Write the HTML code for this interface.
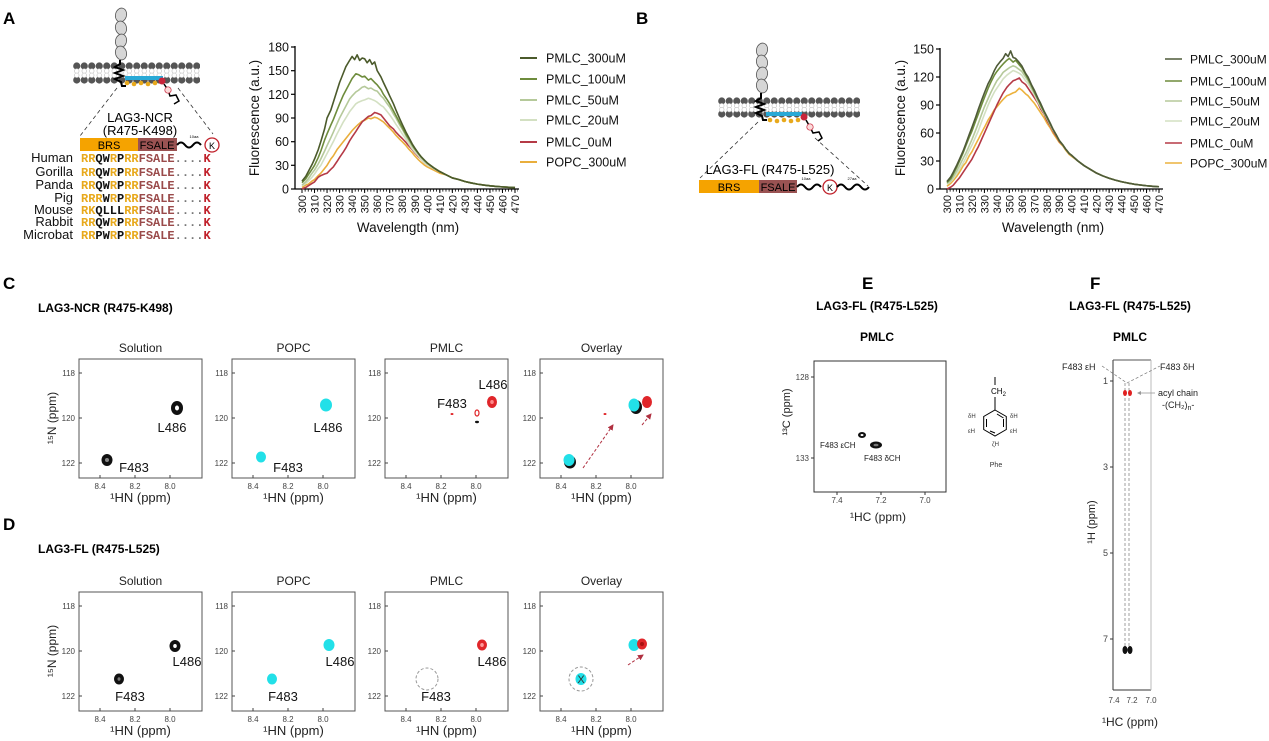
<!DOCTYPE html>
<html><head><meta charset="utf-8">
<style>
html,body{margin:0;padding:0;background:#fff;}
svg{display:block;font-family:"Liberation Sans",sans-serif;}
.mono{font-family:"Liberation Mono",monospace;font-size:12px;font-weight:bold;}
.o{fill:#e8a91c}.k{fill:#111}.b{fill:#9a4a4a}.r{fill:#c0202a}.g{fill:#777}
.tk{font-size:8px;fill:#444}
.yt{font-size:12.5px;fill:#111}
.xt{font-size:11px;fill:#111}
.lg{font-size:12.5px;fill:#111}
.lgb{font-size:12px;fill:#111}
.pl{font-size:13px;fill:#111}
.c{fill:none;stroke-width:1.6;stroke-linejoin:round;vector-effect:non-scaling-stroke}
</style></head><body>
<svg width="1269" height="741" viewBox="0 0 1269 741" xmlns="http://www.w3.org/2000/svg" xmlns:xlink="http://www.w3.org/1999/xlink">
<defs>
<pattern id="mem" x="73" y="0" width="7.5" height="200" patternUnits="userSpaceOnUse">
<circle cx="3.75" cy="66" r="3.6" fill="#555"/><circle cx="3.75" cy="80" r="3.6" fill="#555"/>
<circle cx="3.75" cy="71" r="2.3" fill="#fff" stroke="#bbb" stroke-width="0.6"/><circle cx="3.75" cy="75.3" r="2.3" fill="#fff" stroke="#bbb" stroke-width="0.6"/>
<circle cx="3.75" cy="101" r="3.6" fill="#555"/><circle cx="3.75" cy="114" r="3.6" fill="#555"/>
<circle cx="3.75" cy="105.7" r="2.3" fill="#fff" stroke="#bbb" stroke-width="0.6"/><circle cx="3.75" cy="109.6" r="2.3" fill="#fff" stroke="#bbb" stroke-width="0.6"/>
</pattern>
<marker id="ar" markerWidth="6" markerHeight="6" refX="5" refY="3" orient="auto" markerUnits="userSpaceOnUse"><path d="M0,0 L6,3 L0,6 z" fill="#b03040"/></marker>
<g id="fr">
<rect x="79" y="359" width="123" height="119" fill="none" stroke="#555" stroke-width="1"/>
<g stroke="#444"><line x1="79" y1="373" x2="82" y2="373"/><line x1="79" y1="418" x2="82" y2="418"/><line x1="79" y1="463" x2="82" y2="463"/>
<line x1="100" y1="478" x2="100" y2="475"/><line x1="135" y1="478" x2="135" y2="475"/><line x1="170" y1="478" x2="170" y2="475"/></g>
<g class="tk" text-anchor="end"><text x="75" y="376">118</text><text x="75" y="421">120</text><text x="75" y="466">122</text></g>
<g class="tk" text-anchor="middle"><text x="100" y="489">8.4</text><text x="135" y="489">8.2</text><text x="170" y="489">8.0</text></g>
<text x="140.5" y="502" text-anchor="middle" font-size="13" fill="#222">¹HN (ppm)</text>
</g>
</defs>

<g font-weight="bold" font-size="17" fill="#000">
<text x="3" y="24">A</text><text x="636" y="24">B</text>
<text x="3" y="289">C</text><text x="3" y="530">D</text>
<text x="862" y="289">E</text><text x="1090" y="289">F</text>
</g>

<!-- Cartoon A -->
<g fill="#d6d6d6" stroke="#555" stroke-width="0.8">
<ellipse cx="121" cy="15" rx="5.5" ry="7" transform="rotate(15 121 15)"/>
<ellipse cx="121" cy="28" rx="5.5" ry="7" transform="rotate(-15 121 28)"/>
<ellipse cx="121" cy="41" rx="5.5" ry="7" transform="rotate(15 121 41)"/>
<ellipse cx="121" cy="53" rx="5.5" ry="7" transform="rotate(-15 121 53)"/>
</g>
<rect x="73" y="61" width="127" height="24" fill="url(#mem)"/>
<path d="M120 60 L120 64 L115 67 L123 70 L115 73 L123 76 L115 79 L121 82 L122 86 L126 86" stroke="#000" stroke-width="2" fill="none"/>
<rect x="125" y="76" width="38" height="4" fill="#29a9d6"/>
<g fill="#e8a91c"><circle cx="127" cy="83" r="2.3"/><circle cx="134" cy="84" r="2.3"/><circle cx="141" cy="83" r="2.3"/><circle cx="148" cy="84" r="2.3"/><circle cx="155" cy="83" r="2.3"/></g>
<circle cx="162" cy="81" r="3.5" fill="#c8243a"/>
<path d="M164 84 L168 90 L170 96 L176 95 L179 101 L174 104" stroke="#000" stroke-width="1.5" fill="none"/>
<circle cx="168" cy="90" r="3.2" fill="#fbdada" stroke="#c8243a" stroke-width="0.7"/>
<line x1="117" y1="88" x2="80" y2="136" stroke="#333" stroke-width="0.8" stroke-dasharray="4,3"/>
<line x1="178" y1="88" x2="213" y2="134" stroke="#333" stroke-width="0.8" stroke-dasharray="4,3"/>
<text x="140" y="122" text-anchor="middle" font-size="13">LAG3-NCR</text>
<text x="140" y="135" text-anchor="middle" font-size="13">(R475-K498)</text>
<rect x="80" y="138" width="58" height="13" fill="#f5a300"/>
<rect x="138" y="138" width="39" height="13" fill="#9a5252"/>
<text x="109" y="149" text-anchor="middle" font-size="11">BRS</text>
<text x="157" y="149" text-anchor="middle" font-size="11">FSALE</text>
<path d="M177 145 q4 -5 8 0 t8 0 t8 0" stroke="#000" stroke-width="2" fill="none"/>
<text x="194" y="138" font-size="4" text-anchor="middle">10aa</text>
<circle cx="212" cy="145" r="7" fill="#fff" stroke="#c0202a" stroke-width="1.3"/>
<text x="212" y="149" text-anchor="middle" font-size="9">K</text>
<g font-size="13" text-anchor="end" fill="#111">
<text x="73" y="162">Human</text><text x="73" y="176">Gorilla</text><text x="73" y="189">Panda</text><text x="73" y="202">Pig</text><text x="73" y="214">Mouse</text><text x="73" y="226">Rabbit</text><text x="73" y="239">Microbat</text>
</g>
<g class="mono">
<text x="81" y="162"><tspan class="o">RR</tspan><tspan class="k">QW</tspan><tspan class="o">R</tspan><tspan class="k">P</tspan><tspan class="o">RR</tspan><tspan class="b">FSALE</tspan><tspan class="g">....</tspan><tspan class="r">K</tspan></text>
<text x="81" y="176"><tspan class="o">RR</tspan><tspan class="k">QW</tspan><tspan class="o">R</tspan><tspan class="k">P</tspan><tspan class="o">RR</tspan><tspan class="b">FSALE</tspan><tspan class="g">....</tspan><tspan class="r">K</tspan></text>
<text x="81" y="189"><tspan class="o">RR</tspan><tspan class="k">QW</tspan><tspan class="o">R</tspan><tspan class="k">P</tspan><tspan class="o">RR</tspan><tspan class="b">FSALE</tspan><tspan class="g">....</tspan><tspan class="r">K</tspan></text>
<text x="81" y="202"><tspan class="o">RRR</tspan><tspan class="k">W</tspan><tspan class="o">R</tspan><tspan class="k">P</tspan><tspan class="o">RR</tspan><tspan class="b">FSALE</tspan><tspan class="g">....</tspan><tspan class="r">K</tspan></text>
<text x="81" y="214"><tspan class="o">RK</tspan><tspan class="k">QLLL</tspan><tspan class="o">RR</tspan><tspan class="b">FSALE</tspan><tspan class="g">....</tspan><tspan class="r">K</tspan></text>
<text x="81" y="226"><tspan class="o">RR</tspan><tspan class="k">QW</tspan><tspan class="o">R</tspan><tspan class="k">P</tspan><tspan class="o">RR</tspan><tspan class="b">FSALE</tspan><tspan class="g">....</tspan><tspan class="r">K</tspan></text>
<text x="81" y="239"><tspan class="o">RR</tspan><tspan class="k">PW</tspan><tspan class="o">R</tspan><tspan class="k">P</tspan><tspan class="o">RR</tspan><tspan class="b">FSALE</tspan><tspan class="g">....</tspan><tspan class="r">K</tspan></text>
</g>

<!-- Cartoon B -->
<g fill="#d6d6d6" stroke="#555" stroke-width="0.8">
<ellipse cx="762" cy="50" rx="5.5" ry="7" transform="rotate(15 762 50)"/>
<ellipse cx="762" cy="62" rx="5.5" ry="7" transform="rotate(-15 762 62)"/>
<ellipse cx="762" cy="74" rx="5.5" ry="7" transform="rotate(15 762 74)"/>
<ellipse cx="762" cy="86" rx="5.5" ry="7" transform="rotate(-15 762 86)"/>
</g>
<rect x="718" y="96" width="142" height="23" fill="url(#mem)"/>
<path d="M761 93 L761 98 L756 101 L764 104 L756 107 L764 110 L756 113 L762 116 L763 120 L767 120" stroke="#000" stroke-width="2" fill="none"/>
<rect x="766" y="112" width="36" height="4" fill="#29a9d6"/>
<g fill="#e8a91c"><circle cx="770" cy="120" r="2.3"/><circle cx="777" cy="121" r="2.3"/><circle cx="784" cy="120" r="2.3"/><circle cx="791" cy="121" r="2.3"/><circle cx="798" cy="120" r="2.3"/></g>
<circle cx="804" cy="117" r="3.5" fill="#c8243a"/>
<path d="M806 120 L810 127 L813 133 L819 132 L822 138 L818 141" stroke="#000" stroke-width="1.5" fill="none"/>
<circle cx="810" cy="127" r="3.2" fill="#fbdada" stroke="#c8243a" stroke-width="0.7"/>
<line x1="758" y1="122" x2="700" y2="178" stroke="#333" stroke-width="0.8" stroke-dasharray="4,3"/>
<line x1="815" y1="138" x2="868" y2="186" stroke="#333" stroke-width="0.8" stroke-dasharray="4,3"/>
<text x="770" y="174" text-anchor="middle" font-size="13">LAG3-FL (R475-L525)</text>
<rect x="699" y="180" width="60" height="13" fill="#f5a300"/>
<rect x="759" y="180" width="38" height="13" fill="#9a5252"/>
<text x="729" y="191" text-anchor="middle" font-size="11">BRS</text>
<text x="778" y="191" text-anchor="middle" font-size="11">FSALE</text>
<path d="M797 187 q4 -5 8 0 t8 0 t8 0" stroke="#000" stroke-width="2" fill="none"/>
<text x="806" y="180" font-size="4" text-anchor="middle">10aa</text>
<circle cx="830" cy="187" r="7" fill="#fff" stroke="#c0202a" stroke-width="1.3"/>
<text x="830" y="191" text-anchor="middle" font-size="9">K</text>
<path d="M837 187 q4 -5 8 0 t8 0 t8 0 t8 0" stroke="#000" stroke-width="2" fill="none"/>
<text x="852" y="180" font-size="4" text-anchor="middle">27aa</text>

<!-- Chart A -->
<g>
<line x1="295" y1="46" x2="295" y2="189" stroke="#000" stroke-width="1.3"/>
<line x1="295" y1="189" x2="519" y2="189" stroke="#000" stroke-width="1.3"/>
<g stroke="#000" stroke-width="1.2">
<line x1="291" y1="189" x2="295" y2="189"/><line x1="291" y1="165.3" x2="295" y2="165.3"/><line x1="291" y1="141.7" x2="295" y2="141.7"/><line x1="291" y1="118" x2="295" y2="118"/><line x1="291" y1="94.3" x2="295" y2="94.3"/><line x1="291" y1="70.7" x2="295" y2="70.7"/><line x1="291" y1="47" x2="295" y2="47"/>
</g>
<g class="yt" text-anchor="end"><text x="289" y="193.5">0</text><text x="289" y="169.8">30</text><text x="289" y="146.2">60</text><text x="289" y="122.5">90</text><text x="289" y="98.8">120</text><text x="289" y="75.2">150</text><text x="289" y="51.5">180</text></g>
<line x1="301.6" y1="190.3" x2="518" y2="190.3" stroke="#000" stroke-width="2.6" stroke-dasharray="0.8 2.33"/>
<line x1="301.5" y1="191" x2="518" y2="191" stroke="#000" stroke-width="4" stroke-dasharray="1 11.53"/>
<g class="xt" text-anchor="end">
<text transform="translate(306 195) rotate(-90)">300</text><text transform="translate(318.5 195) rotate(-90)">310</text><text transform="translate(331.1 195) rotate(-90)">320</text><text transform="translate(343.6 195) rotate(-90)">330</text><text transform="translate(356.1 195) rotate(-90)">340</text><text transform="translate(368.7 195) rotate(-90)">350</text><text transform="translate(381.2 195) rotate(-90)">360</text><text transform="translate(393.7 195) rotate(-90)">370</text><text transform="translate(406.2 195) rotate(-90)">380</text><text transform="translate(418.8 195) rotate(-90)">390</text><text transform="translate(431.3 195) rotate(-90)">400</text><text transform="translate(443.8 195) rotate(-90)">410</text><text transform="translate(456.4 195) rotate(-90)">420</text><text transform="translate(468.9 195) rotate(-90)">430</text><text transform="translate(481.4 195) rotate(-90)">440</text><text transform="translate(494 195) rotate(-90)">450</text><text transform="translate(506.5 195) rotate(-90)">460</text><text transform="translate(519 195) rotate(-90)">470</text>
</g>
<text x="408" y="232" text-anchor="middle" font-size="13.5" fill="#111">Wavelength (nm)</text>
<text transform="translate(259 118) rotate(-90)" text-anchor="middle" font-size="13.5" fill="#111">Fluorescence (a.u.)</text>
<g transform="translate(302 189) scale(1.253 -0.789)">
<polyline class="c" stroke="#e9ae3c" points="0,2 3,5 5,6 8,10 10,12 13,17 15,20 18,26 20,30 23,38 25,42 28,50 30,54 33,60 35,64 38,70 40,74 43,79 45,82 48,86 50,87 53,90 55,89 58,91 60,90 63,87 65,85 68,80 70,77 73,72 75,68 78,63 80,60 83,55 85,51 88,46 90,42 93,37 95,34 98,30 100,28 105,24 110,20 115,18 120,14 125,12 130,9.5 135,7.7 140,6.2 145,5 150,4 155,3.3 160,2.7 165,2.2 170,1.8"/>
<polyline class="c" stroke="#b53a46" points="0,0 3,2 5,4 8,7 10,9 13,15 15,17 18,19 20,20 23,25 25,28 28,35 30,40 33,47 35,52 38,61 40,66 43,73 45,78 48,85 50,88 53,92 55,93 58,97 60,96 63,94 65,90 68,84 70,80 73,76 75,72 78,67 80,64 83,59 85,55 88,50 90,46 93,41 95,38 98,33 100,31 105,26 110,22 115,18 120,14 125,12 130,9.5 135,7.7 140,6.2 145,5 150,4 155,3.3 160,2.7 165,2.2 170,1.8"/>
<polyline class="c" stroke="#d3e0c2" points="0,4 3,7 5,10 8,15 10,19 13,26 15,30 18,39 20,45 23,54 25,60 28,70 30,76 33,85 35,90 38,98 40,102 43,108 45,110 48,112 50,113 53,115 55,114 58,112 60,110 63,106 65,104 68,98 70,94 73,87 75,82 78,75 80,70 83,63 85,58 88,51 90,47 93,42 95,38 98,33 100,31 105,26 110,22 115,18 120,14 125,12 130,9.5 135,7.7 140,6.2 145,5 150,4 155,3.3 160,2.7 165,2.2 170,1.8"/>
<polyline class="c" stroke="#b5c99a" points="0,5 3,9 5,13 8,20 10,24 13,32 15,38 18,48 20,55 23,65 25,72 28,83 30,90 33,99 35,105 38,114 40,118 43,123 45,125 48,129 50,130 53,127 55,128 58,125 60,124 63,118 65,115 68,108 70,104 73,95 75,90 78,81 80,76 83,67 85,62 88,54 90,50 93,44 95,40 98,35 100,32 105,27 110,22 115,18 120,14 125,12 130,9.5 135,7.7 140,6.2 145,5 150,4 155,3.3 160,2.7 165,2.2 170,1.8"/>
<polyline class="c" stroke="#6e8c3c" points="0,8 3,13 5,18 8,25 10,30 13,40 15,48 18,62 20,70 23,81 25,88 28,100 30,108 33,119 35,125 38,134 40,140 43,146 45,145 48,142 50,143 53,138 55,140 58,135 60,132 63,126 65,120 68,113 70,108 73,99 75,93 78,84 80,78 83,69 85,64 88,56 90,51 93,45 95,41 98,36 100,33 105,27 110,22 115,18 120,14 125,12 130,9.5 135,7.7 140,6.2 145,5 150,4 155,3.3 160,2.7 165,2.2 170,1.8"/>
<polyline class="c" stroke="#4b5a2b" points="0,10 3,16 5,22 8,31 10,38 13,50 15,60 18,76 20,90 23,100 25,110 28,125 30,135 33,147 35,155 38,163 40,168 42,164 44,170 46,163 48,166 50,165 52,160 54,164 56,158 58,161 60,150 63,142 65,135 68,125 70,118 73,108 75,100 78,89 80,82 83,72 85,66 88,57 90,52 93,45 95,41 98,36 100,33 105,27 110,22 115,18 120,14 125,12 130,9.5 135,7.7 140,6.2 145,5 150,4 155,3.3 160,2.7 165,2.2 170,1.8"/>
</g>
<g stroke-width="2"><line x1="520" y1="58" x2="537" y2="58" stroke="#4b5a2b"/><line x1="520" y1="79" x2="537" y2="79" stroke="#6e8c3c"/><line x1="520" y1="100" x2="537" y2="100" stroke="#b5c99a"/><line x1="520" y1="120" x2="537" y2="120" stroke="#d3e0c2"/><line x1="520" y1="142" x2="537" y2="142" stroke="#b53a46"/><line x1="520" y1="162" x2="537" y2="162" stroke="#e9ae3c"/></g>
<g class="lg"><text x="546" y="62.5">PMLC_300uM</text><text x="546" y="83.5">PMLC_100uM</text><text x="546" y="104.5">PMLC_50uM</text><text x="546" y="124.5">PMLC_20uM</text><text x="546" y="146.5">PMLC_0uM</text><text x="546" y="166.5">POPC_300uM</text></g>
</g>

<!-- Chart B -->
<g>
<line x1="940" y1="48" x2="940" y2="189" stroke="#000" stroke-width="1.3"/>
<line x1="940" y1="189" x2="1163" y2="189" stroke="#000" stroke-width="1.3"/>
<g stroke="#000" stroke-width="1.2">
<line x1="936" y1="189" x2="940" y2="189"/><line x1="936" y1="161" x2="940" y2="161"/><line x1="936" y1="133" x2="940" y2="133"/><line x1="936" y1="105" x2="940" y2="105"/><line x1="936" y1="77" x2="940" y2="77"/><line x1="936" y1="49" x2="940" y2="49"/>
</g>
<g class="yt" text-anchor="end"><text x="934" y="193.5">0</text><text x="934" y="165.5">30</text><text x="934" y="137.5">60</text><text x="934" y="109.5">90</text><text x="934" y="81.5">120</text><text x="934" y="53.5">150</text></g>
<line x1="946.6" y1="190.3" x2="1162" y2="190.3" stroke="#000" stroke-width="2.6" stroke-dasharray="0.8 2.32"/>
<line x1="946.5" y1="191" x2="1162" y2="191" stroke="#000" stroke-width="4" stroke-dasharray="1 11.47"/>
<g class="xt" text-anchor="end">
<text transform="translate(951 195) rotate(-90)">300</text><text transform="translate(963.5 195) rotate(-90)">310</text><text transform="translate(975.9 195) rotate(-90)">320</text><text transform="translate(988.4 195) rotate(-90)">330</text><text transform="translate(1000.9 195) rotate(-90)">340</text><text transform="translate(1013.4 195) rotate(-90)">350</text><text transform="translate(1025.8 195) rotate(-90)">360</text><text transform="translate(1038.3 195) rotate(-90)">370</text><text transform="translate(1050.8 195) rotate(-90)">380</text><text transform="translate(1063.2 195) rotate(-90)">390</text><text transform="translate(1075.7 195) rotate(-90)">400</text><text transform="translate(1088.2 195) rotate(-90)">410</text><text transform="translate(1100.6 195) rotate(-90)">420</text><text transform="translate(1113.1 195) rotate(-90)">430</text><text transform="translate(1125.6 195) rotate(-90)">440</text><text transform="translate(1138.1 195) rotate(-90)">450</text><text transform="translate(1150.5 195) rotate(-90)">460</text><text transform="translate(1163 195) rotate(-90)">470</text>
</g>
<text x="1053" y="232" text-anchor="middle" font-size="13.5" fill="#111">Wavelength (nm)</text>
<text transform="translate(905 118) rotate(-90)" text-anchor="middle" font-size="13.5" fill="#111">Fluorescence (a.u.)</text>
<g transform="translate(947 189) scale(1.247 -0.933)">
<polyline class="c" stroke="#ecb23e" points="0,3 3,6 5,9 8,14 10,18 13,25 15,28 18,36 20,40 23,48 25,53 28,61 30,66 33,74 35,78 38,85 40,88 43,93 45,96 48,100 50,101 53,103 55,104 58,108 60,106 63,102 65,100 68,95 70,92 73,86 75,82 78,76 80,71 83,65 85,60 88,54 90,50 93,46 95,42 98,37 100,35 105,30 110,25 115,21 120,17 125,14 130,11.5 135,9.5 140,7.8 145,6.4 150,5.2 155,4.3 160,3.5 165,2.9 170,2.4"/>
<polyline class="c" stroke="#b53a46" points="0,0 3,2 5,4 8,9 10,12 13,18 15,22 18,28 20,32 23,40 25,45 28,54 30,60 33,69 35,75 38,84 40,90 43,98 45,103 48,109 50,112 53,116 55,117 58,119 60,115 63,112 65,108 68,102 70,98 73,92 75,86 78,80 80,74 83,67 85,62 88,56 90,51 93,47 95,43 98,38 100,36 105,30 110,25 115,21 120,17 125,14 130,11.5 135,9.5 140,7.8 145,6.4 150,5.2 155,4.3 160,3.5 165,2.9 170,2.4"/>
<polyline class="c" stroke="#d3e0c2" points="0,5 3,8 5,11 8,17 10,21 13,28 15,33 18,42 20,47 23,56 25,62 28,73 30,80 33,90 35,96 38,104 40,108 43,114 45,118 48,122 50,124 53,127 55,126 58,124 60,122 63,116 65,113 68,106 70,101 73,93 75,88 78,81 80,76 83,68 85,63 88,57 90,52 93,47 95,43 98,38 100,36 105,30 110,25 115,21 120,17 125,14 130,11.5 135,9.5 140,7.8 145,6.4 150,5.2 155,4.3 160,3.5 165,2.9 170,2.4"/>
<polyline class="c" stroke="#b5c99a" points="0,6 3,9 5,13 8,20 10,25 13,33 15,38 18,47 20,53 23,63 25,70 28,81 30,88 33,97 35,103 38,111 40,116 43,121 45,125 48,128 50,130 53,132 55,131 58,128 60,126 63,120 65,116 68,108 70,103 73,95 75,90 78,82 80,77 83,69 85,64 88,57 90,52 93,47 95,43 98,38 100,36 105,30 110,25 115,21 120,17 125,14 130,11.5 135,9.5 140,7.8 145,6.4 150,5.2 155,4.3 160,3.5 165,2.9 170,2.4"/>
<polyline class="c" stroke="#6e8c3c" points="0,7 3,11 5,16 8,24 10,30 13,39 15,46 18,56 20,62 23,73 25,80 28,91 30,98 33,108 35,114 38,122 40,126 43,131 45,134 48,138 50,140 53,136 55,138 58,133 60,130 63,123 65,118 68,110 70,104 73,96 75,90 78,82 80,77 83,69 85,64 88,57 90,52 93,47 95,43 98,38 100,36 105,30 110,25 115,21 120,17 125,14 130,11.5 135,9.5 140,7.8 145,6.4 150,5.2 155,4.3 160,3.5 165,2.9 170,2.4"/>
<polyline class="c" stroke="#4e5a38" points="0,8 3,13 5,18 8,26 10,32 13,41 15,48 18,59 20,66 23,77 25,85 28,96 30,103 33,113 35,118 38,127 40,132 43,137 45,140 47,145 49,142 51,148 53,141 55,140 57,137 60,132 63,124 65,120 68,111 70,106 73,97 75,92 78,83 80,78 83,70 85,64 88,57 90,52 93,47 95,43 98,38 100,36 105,30 110,25 115,21 120,17 125,14 130,11.5 135,9.5 140,7.8 145,6.4 150,5.2 155,4.3 160,3.5 165,2.9 170,2.4"/>
</g>
<g stroke-width="1.5"><line x1="1165" y1="59" x2="1182" y2="59" stroke="#4e5a38"/><line x1="1165" y1="81" x2="1182" y2="81" stroke="#6e8c3c"/><line x1="1165" y1="101" x2="1182" y2="101" stroke="#b5c99a"/><line x1="1165" y1="121" x2="1182" y2="121" stroke="#d3e0c2"/><line x1="1165" y1="143" x2="1182" y2="143" stroke="#b53a46"/><line x1="1165" y1="163" x2="1182" y2="163" stroke="#ecb23e"/></g>
<g class="lgb"><text x="1190" y="63.5">PMLC_300uM</text><text x="1190" y="85.5">PMLC_100uM</text><text x="1190" y="105.5">PMLC_50uM</text><text x="1190" y="125.5">PMLC_20uM</text><text x="1190" y="147.5">PMLC_0uM</text><text x="1190" y="167.5">POPC_300uM</text></g>
</g>

<!-- C / D headers -->
<text x="38" y="312" font-weight="bold" font-size="12">LAG3-NCR (R475-K498)</text>
<text x="38" y="553" font-weight="bold" font-size="12">LAG3-FL (R475-L525)</text>

<!-- NMR frames -->
<use xlink:href="#fr" href="#fr"/>
<use xlink:href="#fr" href="#fr" transform="translate(153 0)"/>
<use xlink:href="#fr" href="#fr" transform="translate(306 0)"/>
<use xlink:href="#fr" href="#fr" transform="translate(461 0)"/>
<use xlink:href="#fr" href="#fr" transform="translate(0 233)"/>
<use xlink:href="#fr" href="#fr" transform="translate(153 233)"/>
<use xlink:href="#fr" href="#fr" transform="translate(306 233)"/>
<use xlink:href="#fr" href="#fr" transform="translate(461 233)"/>
<g font-size="12" fill="#222" text-anchor="middle">
<text x="140.5" y="352">Solution</text><text x="293.5" y="352">POPC</text><text x="446.5" y="352">PMLC</text><text x="601.5" y="352">Overlay</text>
<text x="140.5" y="585">Solution</text><text x="293.5" y="585">POPC</text><text x="446.5" y="585">PMLC</text><text x="601.5" y="585">Overlay</text>
</g>
<g font-size="12" fill="#222">
<text transform="translate(56 418) rotate(-90)" text-anchor="middle">¹⁵N (ppm)</text>
<text transform="translate(56 651) rotate(-90)" text-anchor="middle">¹⁵N (ppm)</text>
</g>

<!-- peaks C -->
<g>
<ellipse cx="177" cy="408" rx="6" ry="7" fill="#111"/><ellipse cx="177" cy="408" rx="2" ry="2.5" fill="#fff"/>
<ellipse cx="107" cy="460" rx="5.5" ry="6" fill="#111"/><ellipse cx="107" cy="460" rx="2" ry="2" fill="#888"/>
<ellipse cx="326" cy="405" rx="6" ry="6.5" fill="#22e0e8"/><ellipse cx="261" cy="457" rx="5" ry="5.5" fill="#22e0e8"/>
<ellipse cx="492" cy="402" rx="5" ry="6" fill="#e0262a"/><ellipse cx="492" cy="402" rx="1.8" ry="2" fill="#f88"/>
<ellipse cx="477" cy="413" rx="2" ry="3" fill="none" stroke="#e0262a" stroke-width="1.2"/>
<ellipse cx="452" cy="414" rx="1.5" ry="1" fill="#e0262a"/><ellipse cx="477" cy="422" rx="2" ry="1.2" fill="#111"/>
<ellipse cx="636" cy="407" rx="6" ry="7" fill="#111"/><ellipse cx="634" cy="405" rx="5.5" ry="6.5" fill="#22e0e8"/><ellipse cx="647" cy="402" rx="5" ry="6" fill="#e0262a"/>
<ellipse cx="605" cy="414" rx="1.5" ry="1" fill="#e0262a"/>
<ellipse cx="570" cy="462" rx="6" ry="6.5" fill="#111"/><ellipse cx="569" cy="460" rx="5.5" ry="6" fill="#22e0e8"/>
<line x1="583" y1="468" x2="613" y2="425" stroke="#b03040" stroke-width="1" stroke-dasharray="3,2" marker-end="url(#ar)"/>
<line x1="642" y1="425" x2="651" y2="414" stroke="#b03040" stroke-width="1" stroke-dasharray="3,2" marker-end="url(#ar)"/>
</g>
<g class="pl" text-anchor="middle">
<text x="172" y="432">L486</text><text x="134" y="472">F483</text>
<text x="328" y="432">L486</text><text x="288" y="472">F483</text>
<text x="493" y="389">L486</text><text x="452" y="408">F483</text>
</g>

<!-- peaks D -->
<g>
<ellipse cx="175" cy="646" rx="5.5" ry="6" fill="#111"/><ellipse cx="175" cy="646" rx="1.8" ry="2" fill="#fff"/>
<ellipse cx="119" cy="679" rx="5" ry="5.5" fill="#111"/><ellipse cx="119" cy="679" rx="1.5" ry="1.8" fill="#777"/>
<ellipse cx="329" cy="645" rx="5.5" ry="6" fill="#22e0e8"/><ellipse cx="272" cy="679" rx="5" ry="5.5" fill="#22e0e8"/>
<ellipse cx="482" cy="645" rx="5" ry="5.5" fill="#e0262a"/><ellipse cx="482" cy="645" rx="1.8" ry="2" fill="#f99"/>
<circle cx="427" cy="679" r="11" fill="none" stroke="#999" stroke-width="1" stroke-dasharray="3,2"/>
<ellipse cx="634" cy="645" rx="5.5" ry="6" fill="#22e0e8"/><ellipse cx="642" cy="644" rx="5" ry="5.5" fill="#e0262a"/><ellipse cx="642" cy="644" rx="2" ry="2" fill="#a11"/>
<circle cx="581" cy="679" r="12" fill="none" stroke="#999" stroke-width="1" stroke-dasharray="3,2"/>
<ellipse cx="581" cy="679" rx="5.5" ry="6" fill="#22e0e8"/>
<text x="581" y="683" text-anchor="middle" font-size="11" fill="#333">X</text>
<line x1="628" y1="665" x2="643" y2="655" stroke="#b03040" stroke-width="1" stroke-dasharray="3,2" marker-end="url(#ar)"/>
</g>
<g class="pl" text-anchor="middle">
<text x="187" y="666">L486</text><text x="130" y="701">F483</text>
<text x="340" y="666">L486</text><text x="283" y="701">F483</text>
<text x="492" y="666">L486</text><text x="436" y="701">F483</text>
</g>

<!-- E -->
<g>
<text x="877" y="310" text-anchor="middle" font-weight="bold" font-size="12">LAG3-FL (R475-L525)</text>
<text x="877" y="341" text-anchor="middle" font-weight="bold" font-size="12">PMLC</text>
<rect x="814" y="361" width="132" height="131" fill="none" stroke="#333" stroke-width="1"/>
<g stroke="#333"><line x1="811" y1="377" x2="814" y2="377"/><line x1="811" y1="458" x2="814" y2="458"/>
<line x1="837" y1="492" x2="837" y2="495"/><line x1="881" y1="492" x2="881" y2="495"/><line x1="925" y1="492" x2="925" y2="495"/></g>
<text class="tk" x="809" y="380" text-anchor="end">128</text>
<text class="tk" x="809" y="461" text-anchor="end">133</text>
<text class="tk" x="837" y="503" text-anchor="middle">7.4</text>
<text class="tk" x="881" y="503" text-anchor="middle">7.2</text>
<text class="tk" x="925" y="503" text-anchor="middle">7.0</text>
<text x="878" y="521" text-anchor="middle" font-size="12" fill="#222">¹HC (ppm)</text>
<text transform="translate(790 412) rotate(-90)" text-anchor="middle" font-size="11" fill="#222">¹³C (ppm)</text>
<ellipse cx="862" cy="435" rx="4" ry="3" fill="#111"/><ellipse cx="862" cy="435" rx="1.5" ry="1" fill="#fff"/>
<ellipse cx="876" cy="445" rx="6" ry="3.5" fill="#111"/><ellipse cx="876" cy="445" rx="2.5" ry="1.3" fill="#777"/>
<text x="820" y="448" font-size="8" fill="#222">F483 εCH</text>
<text x="864" y="461" font-size="8" fill="#222">F483 δCH</text>
<line x1="995" y1="377" x2="995" y2="385" stroke="#000" stroke-width="1"/>
<text x="991" y="394" font-size="8">CH<tspan font-size="6" dy="2">2</tspan></text>
<line x1="995" y1="397" x2="995" y2="410" stroke="#000" stroke-width="1"/>
<polygon points="995,410 1006.3,416.5 1006.3,429.5 995,436 983.7,429.5 983.7,416.5" fill="none" stroke="#000" stroke-width="1"/>
<line x1="997" y1="414" x2="1003.5" y2="418" stroke="#000"/>
<line x1="1003.5" y1="419" x2="1003.5" y2="427" stroke="#000"/><line x1="986.5" y1="419" x2="986.5" y2="427" stroke="#000"/>
<line x1="990" y1="431" x2="995" y2="433" stroke="#000"/>
<g font-size="6" fill="#333"><text x="968" y="418">δH</text><text x="1010" y="418">δH</text><text x="968" y="433">εH</text><text x="1010" y="433">εH</text><text x="992" y="446">ζH</text></g>
<text x="996" y="467" text-anchor="middle" font-size="7" fill="#333">Phe</text>
</g>

<!-- F -->
<g>
<text x="1130" y="310" text-anchor="middle" font-weight="bold" font-size="12">LAG3-FL (R475-L525)</text>
<text x="1130" y="341" text-anchor="middle" font-weight="bold" font-size="12">PMLC</text>
<line x1="1113" y1="360" x2="1113" y2="690" stroke="#333"/>
<line x1="1113" y1="690" x2="1151" y2="690" stroke="#333"/>
<line x1="1113" y1="360" x2="1151" y2="360" stroke="#555"/>
<line x1="1151" y1="360" x2="1151" y2="690" stroke="#bbb"/>
<g stroke="#333"><line x1="1110" y1="381" x2="1113" y2="381"/><line x1="1110" y1="467" x2="1113" y2="467"/><line x1="1110" y1="553" x2="1113" y2="553"/><line x1="1110" y1="639" x2="1113" y2="639"/></g>
<g font-size="9" fill="#444" text-anchor="end"><text x="1108" y="384">1</text><text x="1108" y="470">3</text><text x="1108" y="556">5</text><text x="1108" y="642">7</text></g>
<g class="tk" text-anchor="middle"><text x="1114" y="703">7.4</text><text x="1132" y="703">7.2</text><text x="1151" y="703">7.0</text></g>
<text x="1130" y="726" text-anchor="middle" font-size="12" fill="#222">¹HC (ppm)</text>
<text transform="translate(1095 522) rotate(-90)" text-anchor="middle" font-size="11" fill="#222">¹H (ppm)</text>
<g stroke="#777" stroke-width="0.7" stroke-dasharray="3,2" fill="none">
<line x1="1125" y1="383" x2="1125" y2="648"/><line x1="1129" y1="383" x2="1129" y2="648"/>
<polyline points="1102,366 1127,383 1160,366"/>
</g>
<ellipse cx="1125" cy="393" rx="2" ry="3" fill="#e02020"/><ellipse cx="1130" cy="393" rx="2" ry="3" fill="#e02020"/>
<ellipse cx="1125" cy="650" rx="2.5" ry="4" fill="#111"/><ellipse cx="1130" cy="650" rx="2.5" ry="4" fill="#111"/>
<text x="1062" y="370" font-size="9" fill="#222">F483 εH</text>
<text x="1160" y="370" font-size="9" fill="#222">F483 δH</text>
<line x1="1155" y1="393" x2="1139" y2="393" stroke="#999" stroke-width="0.8"/>
<polygon points="1137,393 1141,391 1141,395" fill="#999"/>
<text x="1158" y="396" font-size="9" fill="#222">acyl chain</text>
<text x="1162" y="408" font-size="9" fill="#222">-(CH₂)<tspan font-size="7" dy="2">n</tspan><tspan dy="-2">-</tspan></text>
</g>
</svg>
</body></html>
